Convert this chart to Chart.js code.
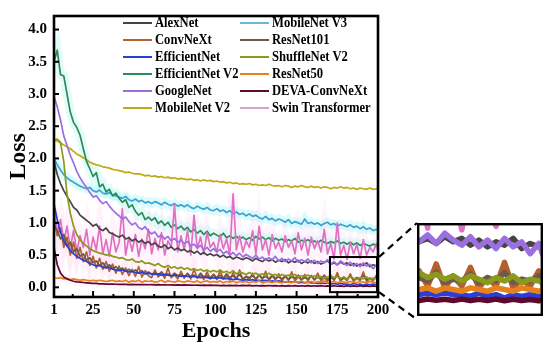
<!DOCTYPE html>
<html><head><meta charset="utf-8">
<script src="https://cdn.jsdelivr.net/npm/chart.js@4/dist/chart.umd.min.js"></script>
<style>
html,body{margin:0;padding:0;background:#fff;width:550px;height:349px;overflow:hidden}
#wrap{position:relative;width:550px;height:349px}
#main{position:absolute;left:0;top:0}
#inset{position:absolute;left:417px;top:223px}
.leg{position:absolute;height:17px;font:bold 14.5px "Liberation Serif",serif;color:#000;white-space:nowrap;line-height:17px}
.leg i{position:absolute;left:0;top:8px;width:29px;height:2px}
.leg span{position:absolute;left:32px;top:0;transform:scaleX(0.87);transform-origin:left center}
</style></head>
<body><div id="wrap"><canvas id="main" width="550" height="349"></canvas><canvas id="inset" width="126" height="93"></canvas><div id="legend"></div></div>
<script>
const epochs = [1,3,5,7,9,11,13,15,17,19,21,23,25,27,29,31,33,35,37,39,41,43,45,47,49,51,53,55,57,59,61,63,65,67,69,71,73,75,77,79,81,83,85,87,89,91,93,95,97,99,101,103,105,107,109,111,113,115,117,119,121,123,125,127,129,131,133,135,137,139,141,143,145,147,149,151,153,155,157,159,161,163,165,167,169,171,173,175,177,179,181,183,185,187,189,191,193,195,197,199,200];

const alexNet = [1.96,1.75,1.61,1.50,1.41,1.33,1.24,1.20,1.12,1.08, 1.04,1.00,0.95,0.98,0.91,0.88,0.92,0.85,0.83,0.80, 0.78,0.81,0.75,0.77,0.72,0.75,0.70,0.73,0.68,0.71, 0.66,0.69,0.64,0.62,0.66,0.60,0.63,0.58,0.61,0.57, 0.59,0.55,0.57,0.53,0.56,0.51,0.54,0.50,0.52,0.49, 0.51,0.47,0.50,0.46,0.48,0.44,0.47,0.45,0.43,0.46, 0.44,0.41,0.45,0.42,0.40,0.44,0.41,0.43,0.39,0.42, 0.40,0.43,0.38,0.41,0.39,0.42,0.37,0.40,0.38,0.41, 0.37,0.40,0.36,0.39,0.41,0.36,0.38,0.35,0.39,0.36, 0.38,0.34,0.37,0.33,0.36,0.34,0.38,0.32,0.35,0.33, 0.34];
const convNeXt = [1.05,0.80,0.92,0.62,0.78,0.50,0.70,0.45,0.62,0.40, 0.55,0.34,0.48,0.30,0.45,0.28,0.40,0.25,0.36,0.22, 0.33,0.20,0.30,0.18,0.28,0.17,0.32,0.16,0.26,0.18, 0.15,0.27,0.16,0.22,0.14,0.30,0.15,0.20,0.13,0.25, 0.14,0.22,0.13,0.28,0.14,0.19,0.12,0.24,0.13,0.20, 0.12,0.26,0.13,0.18,0.11,0.23,0.12,0.27,0.11,0.17, 0.12,0.22,0.11,0.19,0.12,0.25,0.10,0.18,0.11,0.21, 0.10,0.17,0.11,0.24,0.10,0.16,0.11,0.20,0.10,0.18, 0.11,0.22,0.10,0.15,0.09,0.19,0.10,0.23,0.09,0.16, 0.10,0.21,0.09,0.15,0.10,0.24,0.09,0.14,0.10,0.19, 0.10];
const efficientNet = [1.30,1.05,0.85,0.72,0.64,0.57,0.52,0.48,0.45,0.42, 0.40,0.37,0.35,0.33,0.34,0.31,0.30,0.31,0.28,0.27, 0.26,0.27,0.25,0.24,0.25,0.23,0.22,0.23,0.21,0.22, 0.21,0.20,0.21,0.19,0.20,0.19,0.18,0.19,0.18,0.17, 0.18,0.17,0.16,0.17,0.16,0.15,0.16,0.15,0.14,0.15, 0.14,0.15,0.13,0.14,0.13,0.12,0.13,0.12,0.11,0.12, 0.11,0.12,0.10,0.11,0.10,0.11,0.09,0.10,0.09,0.10, 0.09,0.08,0.09,0.08,0.09,0.07,0.08,0.07,0.08,0.07, 0.07,0.06,0.07,0.06,0.07,0.05,0.06,0.05,0.06,0.05, 0.05,0.04,0.06,0.04,0.05,0.03,0.05,0.04,0.05,0.04, 0.04];
const efficientNetV2 = [3.50,3.68,3.30,3.28,3.00,2.72,2.56,2.48,2.36,2.15, 1.95,1.84,1.72,1.78,1.56,1.60,1.48,1.52,1.42,1.46, 1.38,1.32,1.36,1.24,1.28,1.18,1.12,1.16,1.05,1.09, 1.04,1.08,0.99,1.03,0.96,1.01,0.93,0.97,0.91,0.95, 0.89,0.93,0.86,0.90,0.84,0.88,0.82,0.87,0.80,0.84, 0.81,0.78,0.84,0.77,0.80,0.76,0.79,0.75,0.78,0.74, 0.77,0.73,0.79,0.75,0.78,0.74,0.77,0.72,0.76,0.73, 0.75,0.71,0.74,0.72,0.76,0.70,0.73,0.71,0.74,0.70, 0.72,0.69,0.73,0.70,0.68,0.71,0.69,0.72,0.68,0.70, 0.67,0.70,0.66,0.69,0.65,0.68,0.66,0.64,0.67,0.65, 0.66];
const googleNet = [2.96,2.80,2.60,2.35,2.20,2.05,1.93,1.80,1.70,1.62, 1.55,1.47,1.40,1.42,1.35,1.30,1.33,1.26,1.20,1.15, 1.11,1.06,1.09,1.02,0.97,1.00,0.93,0.90,0.94,0.87, 0.83,0.86,0.78,0.81,0.75,0.79,0.72,0.76,0.70,0.73, 0.68,0.71,0.64,0.67,0.61,0.65,0.58,0.62,0.56,0.60, 0.55,0.59,0.52,0.56,0.50,0.54,0.49,0.53,0.47,0.51, 0.48,0.45,0.50,0.44,0.47,0.42,0.46,0.43,0.48,0.41, 0.45,0.40,0.44,0.41,0.46,0.39,0.43,0.40,0.44,0.38, 0.42,0.37,0.41,0.38,0.43,0.36,0.40,0.35,0.41,0.37, 0.34,0.39,0.33,0.37,0.32,0.38,0.33,0.36,0.29,0.35, 0.28];
const mobileNetV2 = [2.29,2.27,2.24,2.21,2.18,2.15,2.11,2.07,2.04,2.01, 1.98,1.94,1.92,1.90,1.89,1.87,1.86,1.85,1.83,1.82, 1.81,1.80,1.78,1.79,1.77,1.76,1.76,1.75,1.73,1.74, 1.72,1.73,1.71,1.72,1.70,1.71,1.69,1.70,1.68,1.69, 1.68,1.67,1.68,1.66,1.67,1.65,1.67,1.65,1.66,1.64, 1.65,1.63,1.64,1.62,1.63,1.61,1.62,1.60,1.61,1.60, 1.61,1.59,1.60,1.58,1.59,1.58,1.60,1.58,1.57,1.58, 1.56,1.58,1.57,1.55,1.57,1.56,1.58,1.56,1.55,1.57, 1.55,1.56,1.54,1.56,1.55,1.53,1.55,1.54,1.56,1.54, 1.55,1.53,1.54,1.52,1.54,1.53,1.52,1.54,1.52,1.53, 1.53];
const mobileNetV3 = [2.00,1.90,1.82,1.75,1.70,1.66,1.63,1.60,1.57,1.55, 1.53,1.55,1.50,1.48,1.51,1.46,1.45,1.47,1.43,1.42, 1.40,1.38,1.41,1.36,1.34,1.37,1.33,1.35,1.31,1.33, 1.30,1.33,1.31,1.28,1.32,1.29,1.27,1.30,1.26,1.28, 1.25,1.28,1.24,1.22,1.26,1.23,1.21,1.24,1.20,1.19, 1.22,1.18,1.20,1.16,1.19,1.14,1.17,1.13,1.15,1.11, 1.14,1.10,1.12,1.08,1.06,1.10,1.05,1.07,1.03,1.06, 1.04,1.01,1.05,0.99,1.02,1.00,0.98,1.06,0.99,1.01, 0.98,1.00,0.96,0.99,1.01,0.97,0.99,0.95,0.98,0.96, 0.94,0.97,0.93,0.95,0.91,0.94,0.90,0.92,0.88,0.90, 0.88];
const resNet101 = [0.95,0.88,0.75,0.82,0.64,0.70,0.55,0.60,0.48,0.52, 0.42,0.46,0.38,0.41,0.34,0.38,0.31,0.35,0.29,0.32, 0.27,0.30,0.25,0.28,0.24,0.27,0.22,0.26,0.21,0.24, 0.20,0.23,0.19,0.24,0.18,0.21,0.17,0.22,0.18,0.20, 0.16,0.21,0.17,0.19,0.15,0.22,0.16,0.18,0.15,0.20, 0.15,0.19,0.14,0.21,0.15,0.18,0.14,0.20,0.13,0.17, 0.15,0.18,0.13,0.20,0.14,0.17,0.13,0.19,0.14,0.16, 0.13,0.18,0.12,0.16,0.14,0.19,0.12,0.15,0.13,0.18, 0.12,0.16,0.13,0.19,0.12,0.15,0.13,0.18,0.12,0.14, 0.13,0.17,0.12,0.15,0.13,0.18,0.12,0.14,0.13,0.16, 0.13];
const shuffleNetV2 = [2.28,2.30,2.25,1.95,1.45,1.15,0.95,0.82,0.74,0.68, 0.64,0.60,0.57,0.55,0.53,0.52,0.50,0.51,0.48,0.47, 0.45,0.46,0.43,0.42,0.44,0.40,0.39,0.41,0.37,0.38, 0.36,0.34,0.37,0.33,0.31,0.34,0.30,0.32,0.29,0.31, 0.28,0.30,0.27,0.29,0.26,0.28,0.25,0.27,0.24,0.26, 0.24,0.27,0.23,0.25,0.22,0.26,0.21,0.24,0.22,0.20, 0.23,0.20,0.22,0.19,0.21,0.18,0.22,0.19,0.20,0.17, 0.20,0.18,0.19,0.17,0.20,0.16,0.18,0.17,0.19,0.16, 0.18,0.15,0.17,0.14,0.16,0.18,0.15,0.17,0.14,0.16, 0.13,0.16,0.14,0.12,0.15,0.13,0.16,0.12,0.14,0.13, 0.12];
const resNet50 = [0.15,0.14,0.15,0.13,0.14,0.12,0.13,0.12,0.11,0.12, 0.11,0.10,0.11,0.10,0.11,0.10,0.09,0.10,0.11,0.09, 0.10,0.09,0.11,0.08,0.10,0.09,0.11,0.08,0.10,0.09, 0.10,0.08,0.09,0.11,0.08,0.10,0.09,0.08,0.10,0.09, 0.08,0.10,0.09,0.08,0.10,0.07,0.09,0.10,0.08,0.09, 0.08,0.10,0.07,0.09,0.08,0.10,0.07,0.09,0.08,0.09, 0.07,0.09,0.08,0.10,0.07,0.08,0.09,0.07,0.09,0.08, 0.07,0.09,0.08,0.07,0.09,0.08,0.10,0.07,0.08,0.09, 0.07,0.09,0.08,0.10,0.07,0.08,0.09,0.07,0.09,0.08, 0.07,0.09,0.08,0.07,0.09,0.08,0.07,0.09,0.08,0.07, 0.08];
const devaConvNeXt = [0.62,0.35,0.22,0.16,0.13,0.11,0.095,0.085,0.08,0.075, 0.07,0.065,0.06,0.06,0.055,0.055,0.05,0.05,0.05,0.048, 0.047,0.045,0.046,0.043,0.045,0.042,0.044,0.041,0.043,0.040, 0.042,0.038,0.041,0.037,0.040,0.036,0.039,0.035,0.038,0.034, 0.037,0.033,0.036,0.032,0.035,0.031,0.034,0.030,0.033,0.029, 0.032,0.028,0.031,0.027,0.030,0.026,0.030,0.025,0.029,0.026, 0.030,0.024,0.028,0.023,0.027,0.022,0.028,0.023,0.026,0.021, 0.027,0.020,0.026,0.021,0.027,0.019,0.025,0.020,0.026,0.019, 0.025,0.018,0.026,0.017,0.024,0.016,0.025,0.017,0.023,0.016, 0.024,0.015,0.023,0.016,0.024,0.014,0.023,0.015,0.022,0.014, 0.02];
const swinTransformer = [1.25,0.85,1.05,0.70,0.95,0.60,0.88,0.55,0.80,0.62, 0.90,0.50,0.78,0.58,0.95,0.52,0.74,0.48,0.85,0.55, 0.70,1.22,0.50,0.78,0.56,0.82,0.48,0.75,0.60,0.90, 0.52,0.76,0.58,0.85,0.50,0.72,0.62,1.28,0.55,0.80, 0.58,0.88,0.50,1.12,0.60,0.78,0.52,0.85,0.62,0.70, 0.55,0.82,0.60,0.75,0.50,1.45,0.58,0.80,0.55,0.72, 0.62,0.88,0.52,0.95,0.58,0.74,0.50,0.82,0.60,0.70, 0.55,0.80,0.62,0.72,0.52,0.85,0.58,0.76,0.50,0.78, 0.60,0.72,0.55,0.90,0.52,0.68,0.44,1.00,0.50,0.65, 0.43,0.70,0.52,0.66,0.45,0.74,0.50,0.62,0.55,0.68, 0.58];

const seriesNames = ['AlexNet','ConvNeXt','EfficientNet','EfficientNet V2','GoogleNet','MobileNet V2','MobileNet V3','ResNet101','ShuffleNet V2','ResNet50','DEVA-ConvNeXt','Swin Transformer'];
const seriesValues = [alexNet,convNeXt,efficientNet,efficientNetV2,googleNet,mobileNetV2,mobileNetV3,resNet101,shuffleNetV2,resNet50,devaConvNeXt,swinTransformer];
const seriesColors = ['#454545','#b5602d','#2a3fd6','#2e8b57','#9b6fe0','#c2a812','#3fa0d4','#6e5a4c','#8a9a1c','#e6821e','#5e0a2e','#e070c4'];
const legendColors = ['#454545','#b5602d','#2a3fd6','#2e8b57','#9b6fe0','#c2a812','#6cb4d8','#6e5a4c','#8a9a1c','#e6821e','#5e0a2e','#d9a0d2'];
const drawRank = [7,5,2,9,6,11,10,4,3,1,0,8];   // lower = drawn on top
const yTickValues = [0,0.5,1,1.5,2,2.5,3,3.5,4];
const xTickValues = [1,25,50,75,100,125,150,175,200];
const zoomWindow = {x0:170.5, x1:200, y0:-0.075, y1:0.47};

function pts(vals){ return epochs.map((e,i)=>({x:e,y:vals[i]})); }

function buildSets(width, halos){
  const sets = seriesNames.map((n,i)=>({label:n,data:pts(seriesValues[i]),borderColor:seriesColors[i],borderWidth:width,pointRadius:0,tension:0,order:drawRank[i]+1,borderJoinStyle:'round',borderCapStyle:'round'}));
  if(halos){
    const haloSpec = [[6,'rgba(140,245,245,0.30)'],[3,'rgba(140,245,245,0.25)'],[11,'rgba(255,185,232,0.16)'],[1,'rgba(255,190,232,0.14)'],[10,'rgba(255,190,232,0.14)']];
    haloSpec.forEach(([k,c])=>sets.push({label:'halo',data:pts(seriesValues[k]),borderColor:c,borderWidth:9,pointRadius:0,tension:0,order:50}));
  }
  return sets;
}

const F = 'Liberation Serif';
const framePlugin = {
  id:'frame',
  beforeDraw(c){const ctx=c.ctx;ctx.save();ctx.fillStyle='#fff';ctx.fillRect(0,0,c.width,c.height);ctx.restore();},
  afterDatasetsDraw(c){
    const ctx=c.ctx, a=c.chartArea, x=c.scales.x, y=c.scales.y;
    ctx.save();
    ctx.strokeStyle='#000';
    ctx.lineWidth=2;
    yTickValues.forEach(v=>{const p=y.getPixelForValue(v);ctx.beginPath();ctx.moveTo(a.left,p);ctx.lineTo(a.left+5,p);ctx.stroke();});
    xTickValues.slice(1).forEach(v=>{const p=x.getPixelForValue(v);ctx.beginPath();ctx.moveTo(p,a.bottom);ctx.lineTo(p,a.bottom-6);ctx.stroke();});
    xTickValues.slice(1).forEach(v=>{const p=x.getPixelForValue(v-12.5);ctx.beginPath();ctx.moveTo(p,a.bottom);ctx.lineTo(p,a.bottom-3);ctx.stroke();});
    ctx.lineWidth=2.6;
    ctx.strokeRect(a.left,a.top,a.right-a.left,a.bottom-a.top);
    const rx0=x.getPixelForValue(zoomWindow.x0), rx1=x.getPixelForValue(zoomWindow.x1)-1;
    const ry0=y.getPixelForValue(zoomWindow.y1), ry1=y.getPixelForValue(zoomWindow.y0);
    ctx.lineWidth=2;
    ctx.strokeRect(rx0,ry0,rx1-rx0,ry1-ry0);
    ctx.setLineDash([7,5]);
    ctx.lineWidth=2.2;
    ctx.beginPath();ctx.moveTo(rx1+2,ry0);ctx.lineTo(417,223);ctx.stroke();
    ctx.beginPath();ctx.moveTo(rx1+2,ry1);ctx.lineTo(415,318);ctx.stroke();
    ctx.restore();
  }
};

new Chart(document.getElementById('main'),{
  type:'line',
  data:{datasets:buildSets(1.7,true)},
  options:{
    responsive:false,animation:false,devicePixelRatio:1,
    layout:{padding:{top:8,right:172,left:0,bottom:0}},
    plugins:{legend:{display:false},tooltip:{enabled:false}},
    scales:{
      x:{type:'linear',min:1,max:200,
        afterBuildTicks:s=>{s.ticks=xTickValues.map(v=>({value:v}));},
        ticks:{autoSkip:false,maxRotation:0,padding:4,color:'#000',font:{family:F,weight:'bold',size:15},callback:v=>String(v)},
        grid:{display:false,drawTicks:false},border:{display:false},
        title:{display:true,text:'Epochs',color:'#000',font:{family:F,weight:'bold',size:22},padding:{top:0,bottom:4}},
        afterFit:s=>{s.height=52;}},
      y:{type:'linear',min:-0.15,max:4.21,
        afterBuildTicks:s=>{s.ticks=yTickValues.map(v=>({value:v}));},
        ticks:{autoSkip:false,padding:7,color:'#000',font:{family:F,weight:'bold',size:15},callback:v=>v.toFixed(1)},
        grid:{display:false,drawTicks:false},border:{display:false},
        title:{display:true,text:'Loss',color:'#000',font:{family:F,weight:'bold',size:24},padding:{top:4,bottom:0}},
        afterFit:s=>{s.width=54;}}
    }
  },
  plugins:[framePlugin]
});

const insetFrame = {
  id:'insetFrame',
  beforeDraw(c){const ctx=c.ctx;ctx.save();ctx.fillStyle='#fff';ctx.fillRect(0,0,c.width,c.height);ctx.restore();},
  afterDatasetsDraw(c){const ctx=c.ctx;ctx.save();ctx.strokeStyle='#000';ctx.lineWidth=2.4;ctx.strokeRect(1.2,1.2,c.width-2.4,c.height-2.4);ctx.restore();}
};
new Chart(document.getElementById('inset'),{
  type:'line',
  data:{datasets:buildSets(5.5,false)},
  options:{
    responsive:false,animation:false,devicePixelRatio:1,
    layout:{padding:0},
    plugins:{legend:{display:false},tooltip:{enabled:false}},
    scales:{
      x:{type:'linear',display:false,min:zoomWindow.x0,max:zoomWindow.x1},
      y:{type:'linear',display:false,min:zoomWindow.y0,max:zoomWindow.y1}
    }
  },
  plugins:[insetFrame]
});

const leg=document.getElementById('legend');
seriesNames.forEach((n,i)=>{
  const col=Math.floor(i/6), row=i%6;
  const d=document.createElement('div');
  d.className='leg';
  d.style.left=(col===0?123:240)+'px';
  d.style.top=(14+row*17)+'px';
  d.innerHTML='<i style="background:'+legendColors[i]+'"></i><span></span>';
  d.querySelector('span').textContent=n;
  leg.appendChild(d);
});
</script>
</body></html>
